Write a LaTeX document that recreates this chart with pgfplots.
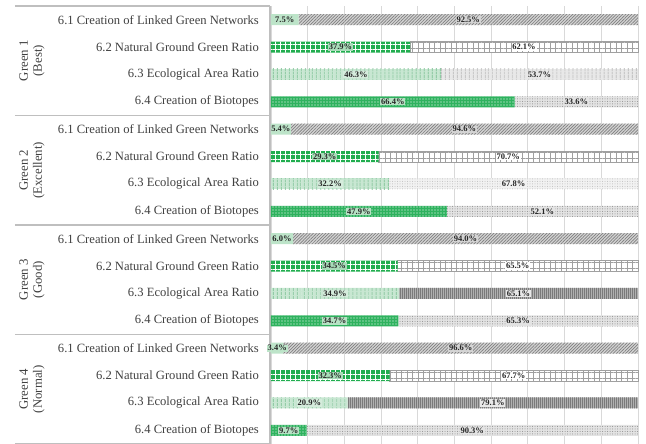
\documentclass[border=0pt]{standalone}
\usepackage{pgfplots}
\pgfplotsset{compat=1.18}
\usepackage{fontspec}
\setmainfont{Liberation Serif}
\usetikzlibrary{patterns.meta}
\definecolor{txt}{HTML}{404040}
\definecolor{gridc}{HTML}{D9D9D9}
\definecolor{tabc}{HTML}{BFBFBF}
\definecolor{gA}{HTML}{BDE4C9}
\definecolor{grA}{HTML}{D4D4D4}
\definecolor{grAl}{HTML}{7F7F7F}
\definecolor{gB}{HTML}{21AD4F}
\definecolor{gBl}{HTML}{A9DCB9}
\definecolor{grBl}{HTML}{A0A0A0}
\definecolor{gC}{HTML}{C8E7D2}
\definecolor{gCl}{HTML}{8FCAA3}
\definecolor{gCf}{HTML}{D5ECDC}
\definecolor{grC}{HTML}{E8E8E8}
\definecolor{grCl}{HTML}{C4C4C4}
\definecolor{grD}{HTML}{F2F2F2}
\definecolor{grDl}{HTML}{BDBDBD}
\definecolor{grE}{HTML}{B0B0B0}
\definecolor{grEl}{HTML}{7A7A7A}
\definecolor{gF}{HTML}{2EB25E}
\definecolor{gFf}{HTML}{B6E2C4}
\definecolor{grF}{HTML}{E3E3E3}
\definecolor{grFl}{HTML}{8A8A8A}
\pgfplotsset{
  base/.style={
    xbar stacked, scale only axis, width=367pt, height=438pt,
    xmin=0, xmax=100, ymin=-0.5, ymax=15.5, y dir=reverse,
    bar width=11pt, at={(0,0)}, anchor=south west, clip=false,
    visualization depends on=rawx \as \rawx,
    nodes near coords={\pgfmathprintnumber[fixed,fixed zerofill,precision=1,assume math mode=true]{\rawx}\%},
    every node near coord/.append style={anchor=center,
      /utils/exec={\expandafter\def\csname tikz@postactions\endcsname{}},
      font=\fontsize{8.5}{9}\selectfont\bfseries, text=black!85, inner sep=0.8pt},
  },
  hid/.style={base, hide axis},
  lab/.style={every node near coord/.append style={fill=#1}},
}
\begin{document}
\begin{tikzpicture}
\useasboundingbox (-271pt,0pt) rectangle (375pt,444pt);
% axis 1: grid, labels, 6.1
\begin{axis}[base,
  xtick={0,10,...,100}, xticklabels={}, xmajorgrids,
  grid style={draw=gridc, line width=0.8pt},
  axis line style={draw=none}, major tick length=0pt,
  ytick={0,...,15},
  yticklabels={6.1 Creation of Linked Green Networks, 6.2 Natural Ground Green Ratio\hspace{3pt}, 6.3 Ecological Area Ratio, 6.4 Creation of Biotopes,
               6.1 Creation of Linked Green Networks, 6.2 Natural Ground Green Ratio\hspace{3pt}, 6.3 Ecological Area Ratio, 6.4 Creation of Biotopes,
               6.1 Creation of Linked Green Networks, 6.2 Natural Ground Green Ratio\hspace{3pt}, 6.3 Ecological Area Ratio, 6.4 Creation of Biotopes,
               6.1 Creation of Linked Green Networks, 6.2 Natural Ground Green Ratio\hspace{3pt}, 6.3 Ecological Area Ratio, 6.4 Creation of Biotopes},
  yticklabel style={anchor=east, inner sep=0pt, xshift=-12pt, text=txt, font=\fontsize{12.6}{14}\selectfont},
]
\addplot[draw=none, fill=gA, lab=gA] coordinates {(7.5,0) (5.4,4) (6.0,8) (3.4,12)};
\addplot[draw=none, fill=grA, postaction={pattern={Lines[angle=45,distance=2.2pt,line width=0.7pt]}, pattern color=grAl}, lab=grA]
  coordinates {(92.5,0) (94.6,4) (94.0,8) (96.6,12)};
\draw[tabc, line width=1.2pt] ([xshift=-256pt]axis cs:0,-0.5) -- ([xshift=-1pt]axis cs:0,-0.5);
\draw[tabc, line width=1.2pt] ([xshift=-256pt]axis cs:0,3.5) -- ([xshift=-1pt]axis cs:0,3.5);
\draw[tabc, line width=1.2pt] ([xshift=-256pt]axis cs:0,7.5) -- ([xshift=-1pt]axis cs:0,7.5);
\draw[tabc, line width=1.2pt] ([xshift=-256pt]axis cs:0,11.5) -- ([xshift=-1pt]axis cs:0,11.5);
\draw[tabc, line width=1.2pt] ([xshift=-256pt]axis cs:0,15.5) -- ([xshift=-1pt]axis cs:0,15.5);
\draw[tabc, line width=1.2pt] ([xshift=-1pt]axis cs:0,-0.5) -- ([xshift=-1pt]axis cs:0,15.5);
\node[rotate=90, align=center, text=txt, font=\fontsize{12.8}{14}\selectfont] at ([xshift=-239pt]axis cs:0,1.5) {Green 1\\(Best)};
\node[rotate=90, align=center, text=txt, font=\fontsize{12.8}{14}\selectfont] at ([xshift=-239pt]axis cs:0,5.5) {Green 2\\(Excellent)};
\node[rotate=90, align=center, text=txt, font=\fontsize{12.8}{14}\selectfont] at ([xshift=-239pt]axis cs:0,9.5) {Green 3\\(Good)};
\node[rotate=90, align=center, text=txt, font=\fontsize{12.8}{14}\selectfont] at ([xshift=-239pt]axis cs:0,13.5) {Green 4\\(Normal)};
\end{axis}
% axis 2: 6.2
\begin{axis}[hid]
\addplot[draw=none, fill=gB, postaction={pattern={Hatch[angle=0,distance=5pt,line width=0.8pt]}, pattern color=white}, lab=gBl]
  coordinates {(37.9,1) (29.3,5) (34.5,9) (32.3,13)};
\addplot[draw=grBl, line width=0.4pt, fill=white, postaction={pattern={Hatch[angle=0,distance=5.5pt,line width=0.6pt]}, pattern color=grBl}, lab=white]
  coordinates {(62.1,1) (70.7,5) (65.5,9) (67.7,13)};
\end{axis}
% axis 3: 6.3 Green 1
\begin{axis}[hid]
\addplot[draw=none, fill=gC, postaction={pattern={Lines[angle=90,distance=4pt,line width=1pt]}, pattern color=gCl}, lab=gCf]
  coordinates {(46.3,2)};
\addplot[draw=none, fill=grC, postaction={pattern={Lines[angle=90,distance=4pt,line width=1pt]}, pattern color=grCl}, lab=grC]
  coordinates {(53.7,2)};
\end{axis}
% axis 4: 6.3 Green 2
\begin{axis}[hid]
\addplot[draw=none, fill=gC, postaction={pattern={Lines[angle=90,distance=4pt,line width=1pt]}, pattern color=gCl}, lab=gCf]
  coordinates {(32.2,6)};
\addplot[draw=none, fill=grD, postaction={pattern={Dots[distance=2.5pt,radius=0.5pt]}, pattern color=grDl}, lab=grD]
  coordinates {(67.8,6)};
\end{axis}
% axis 5: 6.3 Green 3, 4
\begin{axis}[hid]
\addplot[draw=none, fill=gC, postaction={pattern={Lines[angle=90,distance=4pt,line width=1pt]}, pattern color=gCl}, lab=gCf]
  coordinates {(34.9,10) (20.9,14)};
\addplot[draw=none, fill=grE, postaction={pattern={Lines[angle=90,distance=2pt,line width=0.7pt]}, pattern color=grEl}, lab=grC]
  coordinates {(65.1,10) (79.1,14)};
\end{axis}
% axis 6: 6.4
\begin{axis}[hid]
\addplot[draw=none, fill=gF, postaction={pattern={Dots[distance=3pt,radius=0.6pt]}, pattern color=white}, lab=gFf]
  coordinates {(66.4,3) (47.9,7) (34.7,11) (9.7,15)};
\addplot[draw=none, fill=grF, postaction={pattern={Dots[distance=2.5pt,radius=0.5pt]}, pattern color=grFl}, lab=grF]
  coordinates {(33.6,3) (52.1,7) (65.3,11) (90.3,15)};
\end{axis}
\end{tikzpicture}
\end{document}
